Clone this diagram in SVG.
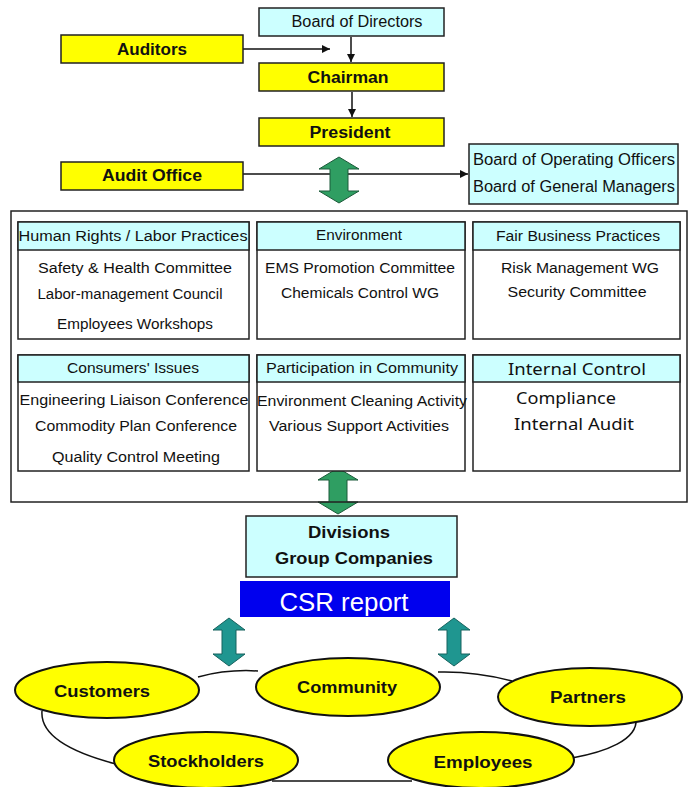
<svg xmlns="http://www.w3.org/2000/svg" width="691" height="787" viewBox="0 0 691 787">
<style>
  text { font-family: "Liberation Sans", Arial, sans-serif; fill: #111; }
  .box { stroke: #222; stroke-width: 1.5; }
  .cyan { fill: #ccffff; }
  .yel { fill: #ffff00; }
  .wht { fill: #ffffff; }
  .b16 { font-size: 16px; font-weight: bold; text-anchor: middle; }
  .r16 { font-size: 16px; }
  .t14 { font-size: 14px; text-anchor: middle; }
  .k16 { font-family: "Noto Sans", "DejaVu Sans", sans-serif; font-size: 16px; }
  .line { stroke: #111; stroke-width: 1.5; fill: none; }
  .ell { fill: #ffff00; stroke: #111; stroke-width: 2; }
  .green { fill: #2f9e62; stroke: #1d5a3a; stroke-width: 1; }
  .teal { fill: #1f9690; stroke: #17625e; stroke-width: 1; }
</style>
<defs>
  <marker id="ah" viewBox="0 0 10 10" refX="10" refY="5" markerWidth="8" markerHeight="8" markerUnits="userSpaceOnUse" orient="auto">
    <path d="M0,0 L10,5 L0,10 Z" fill="#111"/>
  </marker>
</defs>

<rect width="691" height="787" fill="#ffffff"/>

<g id="connectors">
  <line class="line" x1="243" y1="49" x2="330" y2="49" marker-end="url(#ah)"/>
  <line class="line" x1="351" y1="37" x2="351" y2="62" marker-end="url(#ah)"/>
  <line class="line" x1="352" y1="92" x2="352" y2="117" marker-end="url(#ah)"/>
  <line class="line" x1="243" y1="174" x2="468" y2="174" marker-end="url(#ah)"/>
  <path class="green" d="M339,157 L359,169 L348,169 L348,191 L359,191 L339,203 L319,191 L330,191 L330,169 L319,169 Z"/>
  <path class="green" d="M338,468 L358,480 L347,480 L347,502 L358,502 L338,514 L318,502 L329,502 L329,480 L318,480 Z"/>
  <path class="teal" d="M229,618 L245,630 L236,630 L236,654 L245,654 L229,666 L213,654 L222,654 L222,630 L213,630 Z"/>
  <path class="teal" d="M454,618 L470,630 L461,630 L461,654 L470,654 L454,666 L438,654 L447,654 L447,630 L438,630 Z"/>
  <path class="line" d="M198,677 Q228,669 258,671"/>
  <path class="line" d="M438,672 Q475,671 512,681"/>
  <path class="line" d="M636,719 C638,740 605,752 572,758"/>
  <path class="line" d="M272,781 L412,781"/>
  <path class="line" d="M116,764 C70,752 40,735 42,711"/>
</g>

<g id="board-of-directors">
  <rect class="box cyan" x="259" y="8" width="185" height="28"/>
  <text class="r16" x="357" y="27" text-anchor="middle" textLength="131" lengthAdjust="spacingAndGlyphs">Board of Directors</text>
</g>
<g id="auditors">
  <rect class="box yel" x="61" y="35" width="182" height="28"/>
  <text class="b16" x="152" y="55" textLength="70" lengthAdjust="spacingAndGlyphs">Auditors</text>
</g>
<g id="chairman">
  <rect class="box yel" x="259" y="63" width="185" height="28"/>
  <text class="b16" x="348" y="83" textLength="81" lengthAdjust="spacingAndGlyphs">Chairman</text>
</g>
<g id="president">
  <rect class="box yel" x="259" y="118" width="185" height="28"/>
  <text class="b16" x="350" y="138" textLength="81" lengthAdjust="spacingAndGlyphs">President</text>
</g>
<g id="audit-office">
  <rect class="box yel" x="61" y="162" width="182" height="28"/>
  <text class="b16" x="152" y="181" textLength="100" lengthAdjust="spacingAndGlyphs">Audit Office</text>
</g>
<g id="board-of-operating-officers">
  <rect class="box cyan" x="469" y="144" width="209" height="60"/>
  <text class="r16" x="473" y="165" textLength="202" lengthAdjust="spacingAndGlyphs">Board of Operating Officers</text>
  <text class="r16" x="473" y="192" textLength="202" lengthAdjust="spacingAndGlyphs">Board of General Managers</text>
</g>

<g id="csr-committees">
  <rect class="box" x="11" y="211" width="676" height="291" fill="none"/>
</g>

<g id="human-rights">
  <rect class="box wht" x="18" y="222" width="231" height="117"/>
  <rect class="box cyan" x="18" y="222" width="231" height="28"/>
  <text class="t14" x="133" y="241" textLength="229" lengthAdjust="spacingAndGlyphs">Human Rights / Labor Practices</text>
  <text class="t14" x="135" y="273" textLength="194" lengthAdjust="spacingAndGlyphs">Safety &amp; Health Committee</text>
  <text class="t14" x="130" y="299" textLength="185" lengthAdjust="spacingAndGlyphs">Labor-management Council</text>
  <text class="t14" x="135" y="329" textLength="156" lengthAdjust="spacingAndGlyphs">Employees Workshops</text>
</g>
<g id="environment">
  <rect class="box wht" x="257" y="222" width="208" height="117"/>
  <rect class="box cyan" x="257" y="222" width="208" height="28"/>
  <text class="t14" x="359" y="240" textLength="86" lengthAdjust="spacingAndGlyphs">Environment</text>
  <text class="t14" x="360" y="273" textLength="190" lengthAdjust="spacingAndGlyphs">EMS Promotion Committee</text>
  <text class="t14" x="360" y="298" textLength="158" lengthAdjust="spacingAndGlyphs">Chemicals Control WG</text>
</g>
<g id="fair-business">
  <rect class="box wht" x="473" y="222" width="207" height="117"/>
  <rect class="box cyan" x="473" y="222" width="207" height="28"/>
  <text class="t14" x="578" y="241" textLength="164" lengthAdjust="spacingAndGlyphs">Fair Business Practices</text>
  <text class="t14" x="580" y="273" textLength="158" lengthAdjust="spacingAndGlyphs">Risk Management WG</text>
  <text class="t14" x="577" y="297" textLength="139" lengthAdjust="spacingAndGlyphs">Security Committee</text>
</g>
<g id="consumers">
  <rect class="box wht" x="18" y="355" width="231" height="116"/>
  <rect class="box cyan" x="18" y="355" width="231" height="27"/>
  <text class="t14" x="133" y="373" textLength="132" lengthAdjust="spacingAndGlyphs">Consumers' Issues</text>
  <text class="t14" x="134" y="405" textLength="229" lengthAdjust="spacingAndGlyphs">Engineering Liaison Conference</text>
  <text class="t14" x="136" y="431" textLength="202" lengthAdjust="spacingAndGlyphs">Commodity Plan Conference</text>
  <text class="t14" x="136" y="462" textLength="168" lengthAdjust="spacingAndGlyphs">Quality Control Meeting</text>
</g>
<g id="community-participation">
  <rect class="box wht" x="257" y="355" width="208" height="116"/>
  <rect class="box cyan" x="257" y="355" width="208" height="27"/>
  <text class="t14" x="362" y="373" textLength="192" lengthAdjust="spacingAndGlyphs">Participation in Community</text>
  <text class="t14" x="362" y="406" textLength="210" lengthAdjust="spacingAndGlyphs">Environment Cleaning Activity</text>
  <text class="t14" x="359" y="431" textLength="180" lengthAdjust="spacingAndGlyphs">Various Support Activities</text>
</g>
<g id="internal-control">
  <rect class="box wht" x="473" y="355" width="207" height="116"/>
  <rect class="box cyan" x="473" y="355" width="207" height="27"/>
  <text class="k16" x="577" y="375" text-anchor="middle" textLength="138" lengthAdjust="spacingAndGlyphs">Internal Control</text>
  <text class="k16" x="516" y="404" textLength="100" lengthAdjust="spacingAndGlyphs">Compliance</text>
  <text class="k16" x="514" y="430" textLength="120" lengthAdjust="spacingAndGlyphs">Internal Audit</text>
</g>

<g id="divisions">
  <rect class="box cyan" x="246" y="516" width="211" height="61"/>
  <text class="b16" x="349" y="538" textLength="82" lengthAdjust="spacingAndGlyphs">Divisions</text>
  <text class="b16" x="354" y="564" textLength="158" lengthAdjust="spacingAndGlyphs">Group Companies</text>
</g>
<g id="csr-report">
  <rect x="240" y="581" width="210" height="36" fill="#0000ee"/>
  <text x="344" y="611" text-anchor="middle" font-family="Noto Sans, DejaVu Sans, sans-serif" font-size="25" style="fill:#ffffff" textLength="129" lengthAdjust="spacingAndGlyphs">CSR  report</text>
</g>

<g id="customers">
  <ellipse class="ell" cx="107" cy="690" rx="92" ry="28"/>
  <text class="b16" x="102" y="697" textLength="96" lengthAdjust="spacingAndGlyphs">Customers</text>
</g>
<g id="community">
  <ellipse class="ell" cx="348" cy="687" rx="92" ry="29"/>
  <text class="b16" x="347" y="693" textLength="100" lengthAdjust="spacingAndGlyphs">Community</text>
</g>
<g id="partners">
  <ellipse class="ell" cx="590" cy="697" rx="92" ry="29"/>
  <text class="b16" x="588" y="703" textLength="76" lengthAdjust="spacingAndGlyphs">Partners</text>
</g>
<g id="stockholders">
  <ellipse class="ell" cx="206" cy="760" rx="92" ry="28"/>
  <text class="b16" x="206" y="767" textLength="116" lengthAdjust="spacingAndGlyphs">Stockholders</text>
</g>
<g id="employees">
  <ellipse class="ell" cx="481" cy="760" rx="93" ry="28"/>
  <text class="b16" x="483" y="768" textLength="99" lengthAdjust="spacingAndGlyphs">Employees</text>
</g>
</svg>
